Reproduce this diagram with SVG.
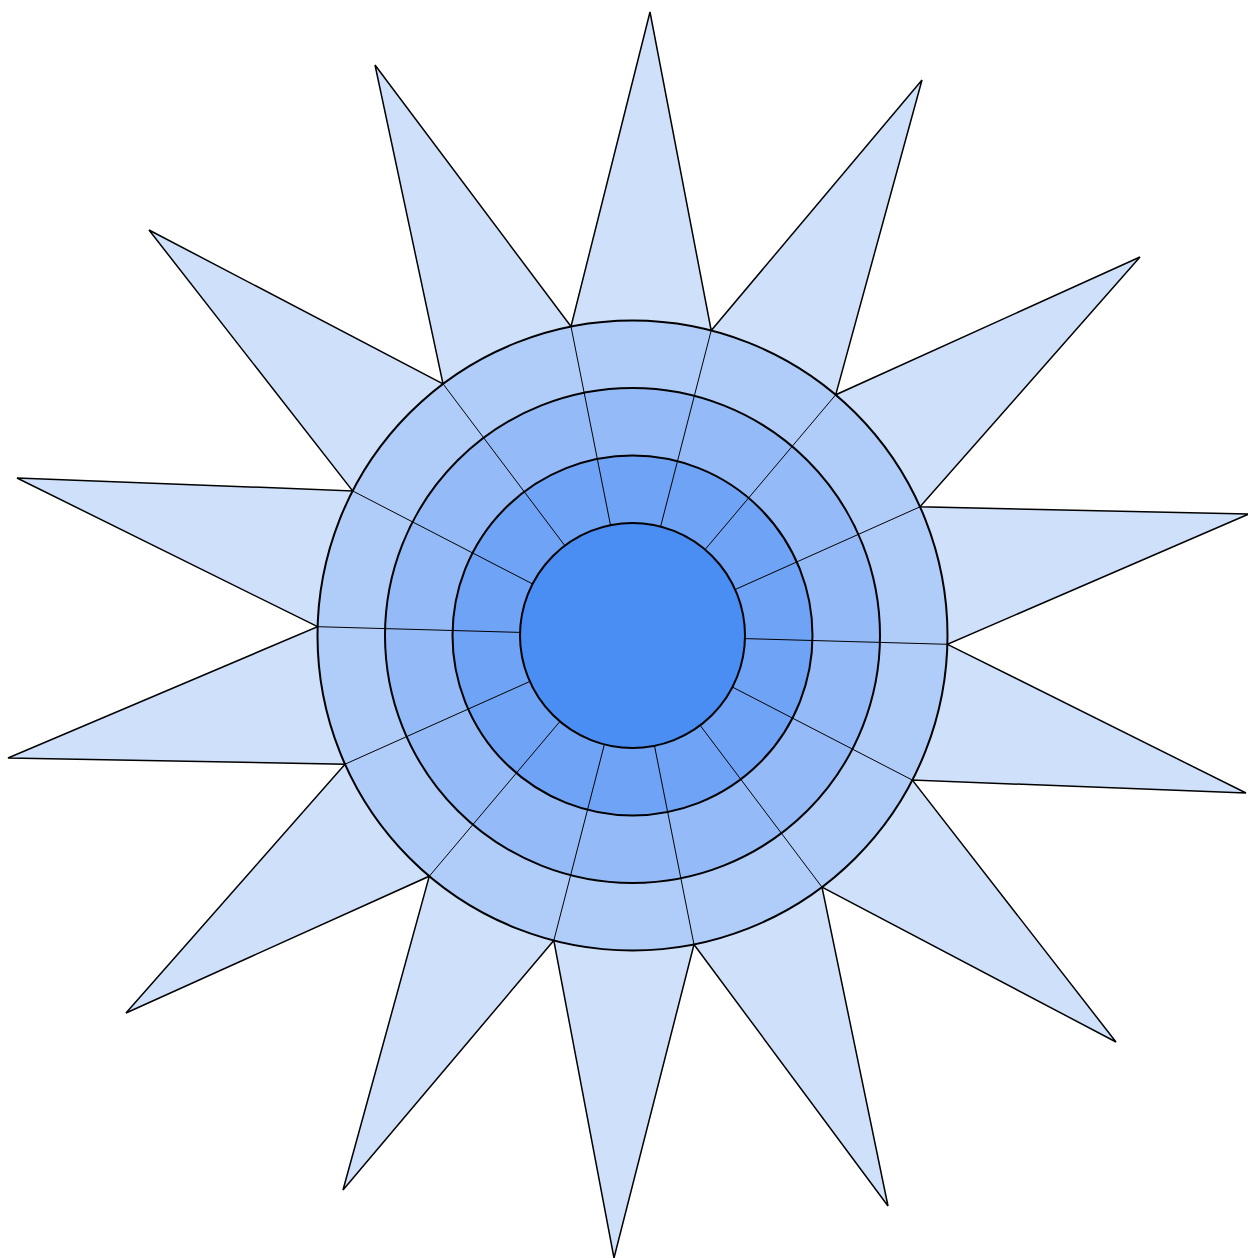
<svg xmlns="http://www.w3.org/2000/svg" width="1248" height="1258" viewBox="0 0 1248 1258">
<style>
.star{fill:#cfe0fb;stroke:#000;stroke-width:1.5;stroke-linejoin:miter}
.ring{stroke:#000;stroke-width:2}
.spoke{stroke:#000;stroke-width:1;fill:none}
</style>
<rect width="1248" height="1258" fill="#fff"/>
<g id="star">
<polygon class="star" points="650,12 711.2,330.5 922,80 835.7,394.8 1140,257 920,506.8 1249,514 947.4,644.3 1246,793 912.4,780.1 1116,1042 822,887.2 888,1206 694,944.5 614,1258 553.8,940.5 343,1190 429.3,876.2 126,1013 345,764.2 8,758 317.6,626.7 17,478 352.6,490.9 149,230 443,383.8 375,65 571,326.5"/>
</g>
<g id="ring-outer"><circle class="ring" cx="632.5" cy="635.5" r="315" fill="#b0cdf9"/></g>
<g id="ring-2"><circle class="ring" cx="632.5" cy="635.5" r="247.5" fill="#94bbf7"/></g>
<g id="ring-3"><circle class="ring" cx="632.5" cy="635.5" r="180" fill="#6fa3f5"/></g>
<g id="connectors">
<line class="spoke" x1="711.2" y1="330.5" x2="660.6" y2="526.6"/>
<line class="spoke" x1="835.7" y1="394.8" x2="705.1" y2="549.5"/>
<line class="spoke" x1="920" y1="506.8" x2="735.2" y2="589.5"/>
<line class="spoke" x1="947.4" y1="644.3" x2="745" y2="638.6"/>
<line class="spoke" x1="912.4" y1="780.1" x2="732.5" y2="687.1"/>
<line class="spoke" x1="822" y1="887.2" x2="700.2" y2="725.4"/>
<line class="spoke" x1="694" y1="944.5" x2="654.5" y2="745.8"/>
<line class="spoke" x1="553.8" y1="940.5" x2="604.4" y2="744.4"/>
<line class="spoke" x1="429.3" y1="876.2" x2="559.9" y2="721.5"/>
<line class="spoke" x1="345" y1="764.2" x2="529.8" y2="681.5"/>
<line class="spoke" x1="317.6" y1="626.7" x2="520" y2="632.4"/>
<line class="spoke" x1="352.6" y1="490.9" x2="532.5" y2="583.9"/>
<line class="spoke" x1="443" y1="383.8" x2="564.8" y2="545.6"/>
<line class="spoke" x1="571" y1="326.5" x2="610.5" y2="525.2"/>
</g>
<g id="center"><circle class="ring" cx="632.5" cy="635.5" r="112.5" fill="#4a8ef3"/></g>
</svg>
